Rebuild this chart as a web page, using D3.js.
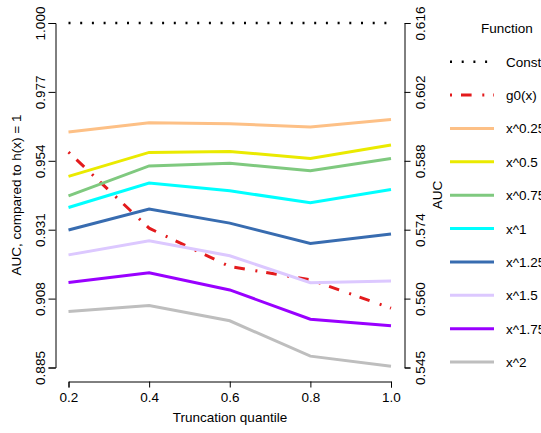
<!DOCTYPE html>
<html>
<head>
<meta charset="utf-8">
<script src="https://cdn.jsdelivr.net/npm/d3@7"></script>
<style>
  body { margin: 0; background: #fff; }
  svg { display: block; font-family: "Liberation Sans", Arial, sans-serif; }
</style>
</head>
<body>
<div id="chart"></div>
<script>
(function() {
    var width = 541,
        height = 433;

    // data
    var quantiles = [0.2, 0.4, 0.6, 0.8, 1.0];
    var names = ["Constant", "g0(x)", "x^0.25", "x^0.5", "x^0.75", "x^1", "x^1.25", "x^1.5", "x^1.75", "x^2"];
    var colors = ["#000000", "#E31A1C", "#FDC086", "#EAEA00", "#7FC97F", "#00FFFF", "#386CB0", "#DCC8FF", "#9900FF", "#BEBEBE"];
    var constant = [1.0, 1.0, 1.0, 1.0, 1.0];
    var g0 = [0.9569, 0.9315, 0.9187, 0.9143, 0.9048];
    var x025 = [0.9636, 0.9667, 0.9664, 0.9653, 0.9678];
    var x05 = [0.9488, 0.9568, 0.9571, 0.9548, 0.9593];
    var x075 = [0.9423, 0.9523, 0.9532, 0.9507, 0.9548];
    var x1 = [0.9384, 0.9466, 0.9440, 0.9400, 0.9444];
    var x125 = [0.9309, 0.9379, 0.9332, 0.9264, 0.9296];
    var x15 = [0.9226, 0.9273, 0.9223, 0.9133, 0.9139];
    var x175 = [0.9134, 0.9166, 0.9109, 0.9011, 0.8989];
    var x2 = [0.9037, 0.9057, 0.9006, 0.8888, 0.8854];
    var leftTicks = [0.885, 0.908, 0.931, 0.954, 0.977, 1.000];
    var baseAUC = 0.6163; // AUC of h(x) = 1

    var series = [constant, g0, x025, x05, x075, x1, x125, x15, x175, x2];

    var x = d3.scaleLinear().domain([0.2, 1.0]).range([68.5, 391]);
    var y = d3.scaleLinear().domain([0.885, 1.0]).range([367.5, 23]);
    var yR = d3.scaleLinear().domain([0.885 * baseAUC, baseAUC]).range([367.5, 23]);

    var svg = d3.select("#chart")
        .append("svg")
        .attr("width", width)
        .attr("height", height);

    var fs = "13.5px";

    // left axis
    var gL = svg.append("g")
        .attr("transform", "translate(55.5,0)")
        .call(d3.axisLeft(y).tickValues(leftTicks).tickFormat(d3.format(".3f")).tickSizeOuter(0).tickSize(7));
    gL.selectAll("text")
        .attr("x", null).attr("dy", null).attr("y", null)
        .attr("text-anchor", "middle")
        .attr("transform", "translate(-10.5,0) rotate(-90)");

    // right axis
    var gR = svg.append("g")
        .attr("transform", "translate(404.5,0)")
        .call(d3.axisRight(yR).tickValues(leftTicks.map(v => v * baseAUC)).tickFormat(d3.format(".3f")).tickSizeOuter(0).tickSize(6));
    gR.selectAll("text")
        .attr("x", null).attr("dy", null).attr("y", null)
        .attr("text-anchor", "middle")
        .attr("transform", "translate(20.5,0) rotate(-90)");

    // bottom axis
    var gB = svg.append("g")
        .attr("transform", "translate(0,381.5)")
        .call(d3.axisBottom(x).tickValues(quantiles).tickFormat(d3.format(".1f")).tickSizeOuter(0).tickSize(6));
    gB.selectAll("text").attr("dy", null).attr("y", 20);

    svg.selectAll(".domain, .tick line").attr("stroke", "#000");
    svg.selectAll(".tick text").attr("fill", "#000").style("font-size", fs).style("font-family", "Liberation Sans, Arial, sans-serif");

    // axis titles
    svg.append("text")
        .attr("transform", "translate(21," + 195 + ") rotate(-90)")
        .attr("text-anchor", "middle")
        .style("font-size", fs)
        .text("AUC, compared to h(x) = 1");
    svg.append("text")
        .attr("transform", "translate(441.5," + 195 + ") rotate(-90)")
        .attr("text-anchor", "middle")
        .style("font-size", fs)
        .text("AUC");
    svg.append("text")
        .attr("x", 230).attr("y", 422)
        .attr("text-anchor", "middle")
        .style("font-size", fs)
        .text("Truncation quantile");

    var dash = function(i) {
        if (i === 0) return "2,9.7";
        if (i === 1) return "2,9,10.6,10.7";
        return null;
    };

    var line = d3.line()
        .x((d, i) => x(quantiles[i]))
        .y(d => y(d));

    svg.selectAll(".series")
        .data(series)
        .enter().append("path")
        .attr("class", "series")
        .attr("d", d => line(d))
        .attr("fill", "none")
        .attr("stroke", (d, i) => colors[i])
        .attr("stroke-width", (d, i) => i === 0 ? 2.5 : 3)
        .attr("stroke-dasharray", (d, i) => dash(i));

    // legend
    var legend = svg.append("g");
    legend.append("text")
        .attr("x", 481).attr("y", 33)
        .style("font-size", fs)
        .text("Function");

    var rows = legend.selectAll(".row")
        .data(names)
        .enter().append("g")
        .attr("class", "row")
        .attr("transform", (d, i) => "translate(0," + (61.7 + i * 33.38) + ")");
    rows.append("line")
        .attr("x1", 450).attr("x2", 494)
        .attr("stroke", (d, i) => colors[i])
        .attr("stroke-width", (d, i) => i === 0 ? 2.5 : 3)
        .attr("stroke-dasharray", (d, i) => dash(i));
    rows.append("text")
        .attr("x", 506).attr("y", 5)
        .style("font-size", fs)
        .text(d => d);
})();
</script>
</body>
</html>
